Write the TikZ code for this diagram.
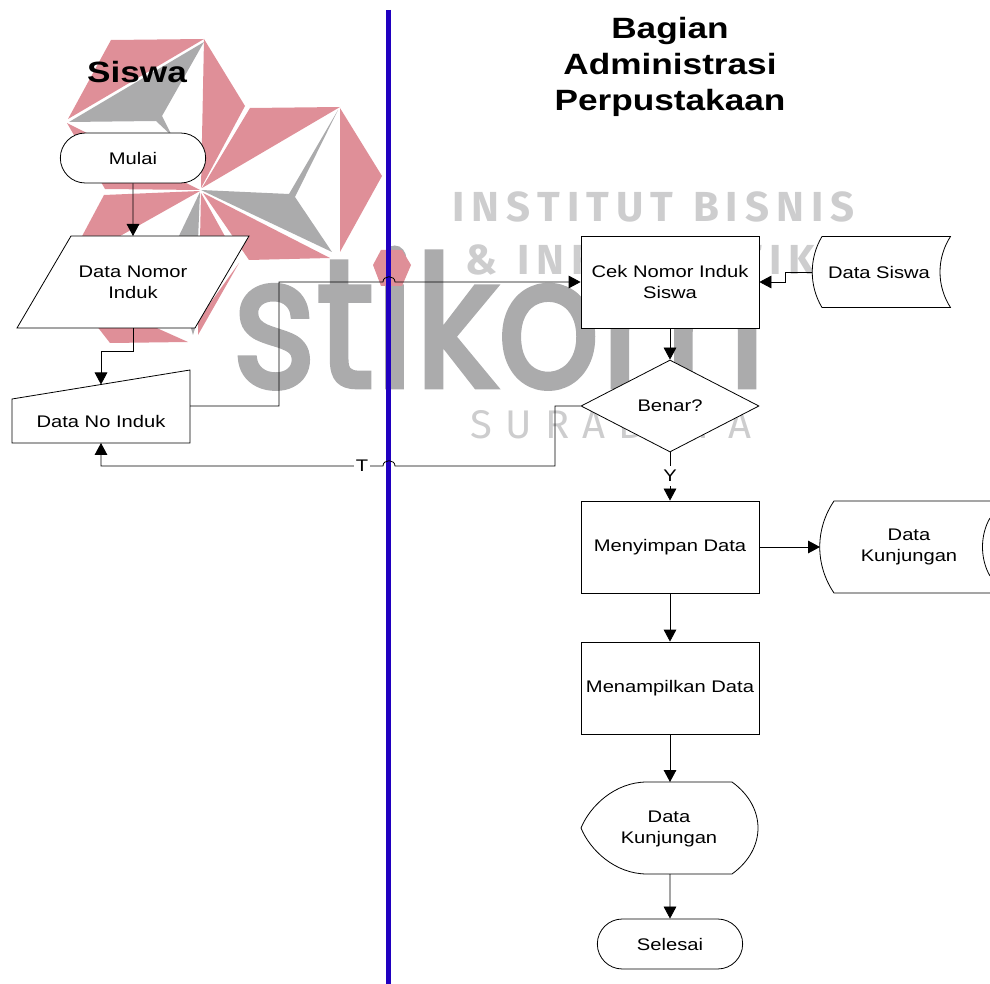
\documentclass[tikz,border=0pt]{standalone}
\usepackage{fontspec}
\setmainfont[FakeStretch=1.2]{Liberation Sans}
\newfontfamily\wmfont{Fira Sans}
\newfontfamily\wmbig[FakeBold=2.5]{Poppins}
\usetikzlibrary{arrows.meta,shapes.geometric,shapes.misc}
\definecolor{wmpink}{HTML}{DF8F98}
\definecolor{wmgray}{HTML}{ABABAC}
\definecolor{wmlight}{HTML}{CDCDCE}
\definecolor{lanebar}{HTML}{2000C0}
\newcommand\wmgap{\hspace{10pt}}
\tikzset{
  x=0.75pt,y=-0.75pt,
  every node/.style={font=\fontsize{12.6}{15.6}\selectfont,align=center,inner sep=0pt},
  shapeline/.style={draw=black,fill=white,line width=0.6pt},
  box/.style={shapeline,rectangle,minimum width=133.5pt,minimum height=69pt},
  term/.style={shapeline,rounded rectangle,minimum width=109pt,minimum height=37.5pt},
  flow/.style={draw=black,line width=0.6pt,-{Triangle[length=9pt,width=9.5pt]}},
  plain/.style={draw=black,line width=0.6pt},
  title/.style={font=\bfseries\fontsize{22}{27}\selectfont},
  pinkp/.style={fill=wmpink,draw=none},
  grayp/.style={fill=wmgray,draw=none},
}
\begin{document}
\begin{tikzpicture}
\useasboundingbox (0,0) rectangle (990,984);
% watermark logo
\fill[pinkp] (111,40) -- (204,39) -- (68,119) -- cycle;
\fill[grayp] (69,122) -- (204,42) -- (162,116) -- (172,136) -- (156,121) -- cycle;
\fill[pinkp] (204,39) -- (245,106) -- (201,188) -- cycle;
\fill[pinkp] (67,123) -- (105,189) -- (200,190) -- cycle;
\fill[pinkp] (250,108) -- (340,107) -- (202,188) -- cycle;
\fill[pinkp] (340,108) -- (382,176) -- (340,252) -- cycle;
\fill[grayp] (201,190) -- (289,194) -- (338,110) -- (295,197) -- (332,252) -- cycle;
\fill[pinkp] (203,193) -- (330,258) -- (249,260) -- cycle;
\fill[pinkp] (200,191) -- (104,195) -- (80,240) -- (113,240) -- cycle;
\fill[grayp] (200,192) -- (198,240) -- (177,240) -- cycle;
\fill[pinkp] (201,193) -- (227,240) -- (200,240) -- cycle;
\fill[pinkp] (239,263) -- (198,335) -- (198,320) -- cycle;
\fill[grayp] (190,325) -- (193,335) -- (196,325) -- cycle;
\fill[pinkp] (96,325) -- (110,343) -- (188,342) -- (150,325) -- cycle;
% watermark text
\coordinate (stikomat) at (232,387);
\node[anchor=base west,font=\wmbig\fontsize{127}{127}\selectfont,text=wmgray,transform shape,xscale=0.95,yscale=1.08] (wmstikom) at (stikomat) {stikom};
\fill[pinkp] (381,250) -- (402,250) -- (411,265) -- (402,286) -- (381,286) -- (373,265) -- cycle;
\node[anchor=base west,font=\wmfont\bfseries\fontsize{31.5}{31.5}\selectfont,text=wmlight] (wmone) at (452,222) {I\,N\,S\,T\,I\,T\,U\,T\ \ B\,I\,S\,N\,I\,S};
\node[anchor=base west,font=\wmfont\bfseries\fontsize{31.5}{31.5}\selectfont,text=wmlight] (wmtwo) at (465,275) {\&\ \ I\,N\,F\,O\,R\,M\,A\,T\,I\,K\,A};
\node[anchor=base west,font=\wmfont\fontsize{30}{30}\selectfont,text=wmlight] (wmthree) at (470,439) {S\wmgap U\wmgap R\wmgap A\wmgap B\wmgap A\wmgap Y\wmgap A};
% lane bar
\coordinate (bartop) at (388.5,10);
\coordinate (barbot) at (388.5,984);
\draw[lanebar,line width=4.1pt] (bartop) -- (barbot);
% titles
\node[title] (siswa) at (137,72) {Siswa};
\node[title] (bagian) at (670,67) {Bagian\\Administrasi\\Perpustakaan};
% nodes
\node[term] (mulai) at (133,158) {Mulai};
\path[shapeline] (71,236) -- (249,236) -- (195,328) -- (17,328) -- cycle;
\node (nomor) at (133,282) {Data Nomor\\Induk};
\coordinate (nomort) at (133,236);
\coordinate (nomorb) at (133,328);
\path[shapeline] (12,399) -- (190,370) -- (190,443) -- (12,443) -- cycle;
\node (noinduk) at (101,421) {Data No Induk};
\coordinate (noindukin) at (101,384.5);
\coordinate (noindukbot) at (101,443);
\coordinate (noindukr) at (190,406);
\node[box] (cek) at (670,282) {Cek Nomor Induk\\Siswa};
\path[shapeline] (822,236.5) -- (950.5,236.5) .. controls (936.5,258) and (936.5,286) .. (950.5,307.5) -- (822,307.5) .. controls (809,286) and (809,258) .. cycle;
\node (dsiswa) at (879,272) {Data Siswa};
\coordinate (dsiswal) at (812,272);
\node[shapeline,diamond,aspect=1.935,minimum width=133.5pt,minimum height=69pt] (benar) at (670,406) {Benar?};
\node[box] (simpan) at (670,547) {Menyimpan Data};
\node[box] (tampil) at (670,688) {Menampilkan Data};
\node[term] (selesai) at (670,944) {Selesai};
\path[shapeline] (834,501) -- (991,501) -- (991,593) -- (834,593) .. controls (815,565) and (815,529) .. cycle;
\path[plain] (990,518) .. controls (980,535) and (980,559) .. (990,576);
\node (kunj) at (909,547) {Data\\Kunjungan};
\coordinate (kunjl) at (820,547);
\path[shapeline] (647,782) -- (732,782) .. controls (750,795) and (758,812) .. (758,828) .. controls (758,844) and (750,861) .. (732,874) -- (647,874) .. controls (615,874) and (590,850) .. (581,828) .. controls (590,806) and (615,782) .. cycle;
\node (dk) at (669,829) {Data\\Kunjungan};
\coordinate (dkt) at (670,782);
\coordinate (dkb) at (670,874);
% connectors
\draw[flow] (mulai) -- (nomort);
\draw[flow] (nomorb) -- (133,351) -- (101,351) -- (noindukin);
\draw[flow] (noindukr) -- (279,406) -- (279,282) -- (383,282) .. controls (383,275) and (395,275) .. (395,282) -- (cek.west);
\draw[flow] (dsiswal) -- (785,272) -- (785,282) -- (cek.east);
\draw[flow] (cek) -- (benar.north);
\draw[flow] (benar.west) -- (555,406) -- (555,466) -- (395,466) .. controls (395,459) and (383,459) .. (383,466) -- (101,466) -- (noindukbot);
\node[fill=white,inner xsep=1.5pt,inner ysep=1pt] (tlabel) at (362,466) {T};
\draw[flow] (benar.south) -- (simpan.north);
\node[fill=white,minimum height=15pt] (ylabel) at (670,476) {Y};
\draw[flow] (simpan) -- (kunjl);
\draw[flow] (simpan) -- (tampil);
\draw[flow] (tampil) -- (dkt);
\draw[flow] (dkb) -- (selesai);
\end{tikzpicture}
\end{document}
